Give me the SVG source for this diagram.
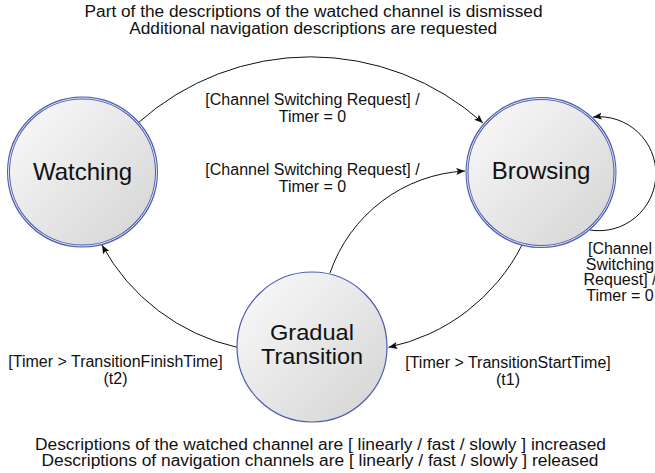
<svg xmlns="http://www.w3.org/2000/svg" width="655" height="473" viewBox="0 0 655 473">
  <style>
    text { font-family: "Liberation Sans", Arial, sans-serif; fill: #111; text-anchor: middle; }
    .state-name { font-size: 24px; }
    .label { font-size: 16px; }
    .note { font-size: 16px; }
    .edge { fill: none; stroke: #111; stroke-width: 1; marker-end: url(#arrow); }
    .body { fill: url(#shade); }
    .ring-outer { fill: none; stroke: #4a5cb0; stroke-width: 3; }
    .ring-gap { fill: none; stroke: #e6e9f4; stroke-width: 1; }
    .ring-single { fill: none; stroke: #4a5cb0; stroke-width: 1.2; }
  </style>
  <defs>
    <linearGradient id="shade" x1="0" y1="0" x2="1" y2="1">
      <stop offset="0" stop-color="#fbfbfb"/>
      <stop offset="1" stop-color="#d3d3d3"/>
    </linearGradient>
    <marker id="arrow" viewBox="0 0 10 8" refX="10" refY="4" markerWidth="9" markerHeight="7" markerUnits="userSpaceOnUse" orient="auto">
      <path d="M0,0 L10,4 L0,8 L2,4 z" fill="#111"/>
    </marker>
  </defs>

  <rect width="655" height="473" fill="#fff"/>

  <!-- header / footer notes -->
  <text class="note" x="313.5" y="17" textLength="458" lengthAdjust="spacingAndGlyphs">Part of the descriptions of the watched channel is dismissed</text>
  <text class="note" x="313.2" y="34" textLength="368" lengthAdjust="spacingAndGlyphs">Additional navigation descriptions are requested</text>
  <text class="note" x="320.5" y="450" textLength="571" lengthAdjust="spacingAndGlyphs">Descriptions of the watched channel are [ linearly / fast / slowly ] increased</text>
  <text class="note" x="320" y="465.5" textLength="557" lengthAdjust="spacingAndGlyphs">Descriptions of navigation channels are [ linearly / fast / slowly ] released</text>

  <!-- transitions -->
  <g id="connectors">
    <path class="edge" d="M138,123 A258,258 0 0 1 483,123"/>
    <path class="edge" d="M330,273 A151,151 0 0 1 465,171"/>
    <path class="edge" d="M522,245 A195,195 0 0 1 388.5,347.3"/>
    <path class="edge" d="M237,347.3 A205,205 0 0 1 102,245"/>
    <path class="edge" d="M590,230 A57,57 0 1 0 593,117"/>
  </g>

  <g id="labels">
    <text class="label" x="312.5" y="105">[Channel Switching Request] /</text>
    <text class="label" x="312.5" y="122">Timer = 0</text>
    <text class="label" x="312.5" y="175">[Channel Switching Request] /</text>
    <text class="label" x="312.5" y="192">Timer = 0</text>
    <text class="label" x="620" y="254">[Channel</text>
    <text class="label" x="620" y="269.5">Switching</text>
    <text class="label" x="620" y="285">Request] /</text>
    <text class="label" x="620" y="300.5">Timer = 0</text>
    <text class="label" x="115.5" y="366.5">[Timer &gt; TransitionFinishTime]</text>
    <text class="label" x="115.5" y="383.5">(t2)</text>
    <text class="label" x="508" y="367.5">[Timer &gt; TransitionStartTime]</text>
    <text class="label" x="508" y="384.5">(t1)</text>
  </g>

  <!-- states -->
  <g id="watching">
    <circle class="body" cx="82.5" cy="172" r="74"/>
    <circle class="ring-outer" cx="82.5" cy="172" r="74"/>
    <circle class="ring-gap" cx="82.5" cy="172" r="74"/>
    <text class="state-name" x="82.5" y="179.5">Watching</text>
  </g>

  <g id="browsing">
    <circle class="body" cx="541" cy="172.5" r="74"/>
    <circle class="ring-outer" cx="541" cy="172.5" r="74"/>
    <circle class="ring-gap" cx="541" cy="172.5" r="74"/>
    <text class="state-name" x="541" y="179">Browsing</text>
  </g>

  <g id="gradual-transition">
    <circle class="body" cx="312" cy="347" r="75"/>
    <circle class="ring-single" cx="312" cy="347" r="75"/>
    <text class="state-name" x="312" y="340" style="font-size:22px" textLength="84" lengthAdjust="spacingAndGlyphs">Gradual</text>
    <text class="state-name" x="312" y="364" style="font-size:22px" textLength="102" lengthAdjust="spacingAndGlyphs">Transition</text>
  </g>
</svg>
